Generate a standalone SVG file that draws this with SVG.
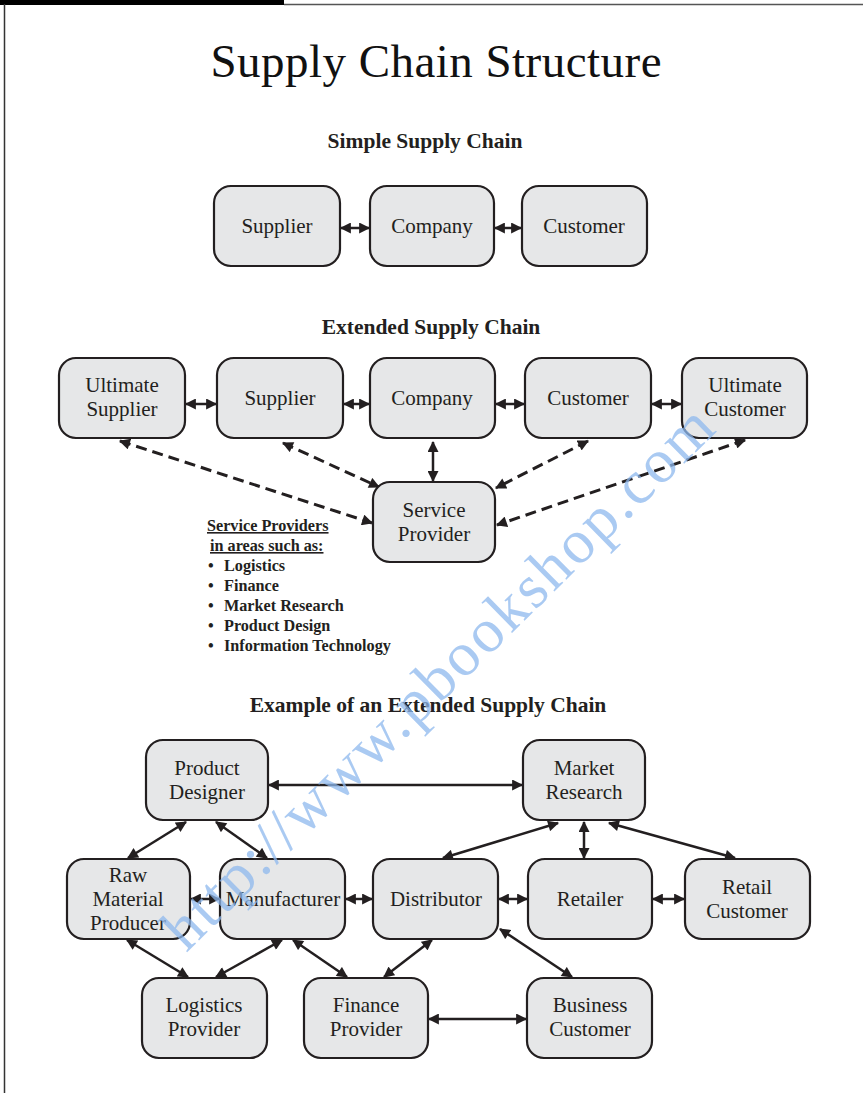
<svg xmlns="http://www.w3.org/2000/svg" width="863" height="1093" viewBox="0 0 863 1093">
<style>
.box{fill:#e6e7e8;stroke:#231f20;stroke-width:2.2}
.lbl{font-family:"Liberation Serif",serif;font-size:21px;fill:#231f20;text-anchor:middle}
.hd{font-family:"Liberation Serif",serif;font-weight:bold;font-size:21.5px;fill:#231f20;text-anchor:middle}
.lst{font-family:"Liberation Serif",serif;font-weight:bold;font-size:16.2px;fill:#231f20}
.c{stroke:#231f20;stroke-width:2.5;fill:none;marker-start:url(#ah);marker-end:url(#ah)}
.d{stroke:#231f20;stroke-width:3;fill:none;stroke-dasharray:11 6;marker-start:url(#ah);marker-end:url(#ah)}
</style>
<defs>
<marker id="ah" viewBox="0 0 10 10" refX="9" refY="5" markerWidth="12" markerHeight="11" markerUnits="userSpaceOnUse" orient="auto-start-reverse"><path d="M0,0L10,5L0,10z" fill="#231f20"/></marker>
</defs>
<rect width="863" height="1093" fill="#fff"/>
<rect x="0" y="0" width="284" height="5" fill="#000"/>
<line x1="284" y1="4.5" x2="863" y2="4.5" stroke="#555" stroke-width="1.5"/>
<line x1="4.5" y1="4" x2="4.5" y2="1093" stroke="#333" stroke-width="1.5"/>
<text x="436" y="77" font-family="Liberation Serif,serif" font-size="47" fill="#111" text-anchor="middle" textLength="451">Supply Chain Structure</text>
<text class="hd" x="425" y="148">Simple Supply Chain</text>
<text class="hd" x="431" y="334">Extended Supply Chain</text>
<text class="hd" x="428" y="712">Example of an Extended Supply Chain</text>
<g id="connectors">
<line class="c" x1="341" y1="228" x2="369" y2="228"/>
<line class="c" x1="495" y1="228" x2="521" y2="228"/>
<line class="c" x1="186" y1="404" x2="216" y2="404"/>
<line class="c" x1="344" y1="404" x2="369" y2="404"/>
<line class="c" x1="496" y1="404" x2="524" y2="404"/>
<line class="c" x1="652" y1="404" x2="681" y2="404"/>
<line class="c" x1="433" y1="442" x2="433" y2="481"/>
<line class="d" x1="120" y1="441" x2="372" y2="523"/>
<line class="d" x1="283" y1="443" x2="379" y2="487"/>
<line class="d" x1="588" y1="441" x2="496" y2="488"/>
<line class="d" x1="745" y1="440" x2="497" y2="525"/>
<line class="c" x1="269" y1="785" x2="522" y2="785"/>
<line class="c" x1="186" y1="822" x2="128" y2="858"/>
<line class="c" x1="216" y1="822" x2="267" y2="858"/>
<line class="c" x1="558" y1="823" x2="443" y2="858"/>
<line class="c" x1="584" y1="822" x2="584" y2="858"/>
<line class="c" x1="609" y1="823" x2="735" y2="858"/>
<line class="c" x1="191" y1="899" x2="219" y2="899"/>
<line class="c" x1="346" y1="899" x2="372" y2="899"/>
<line class="c" x1="499" y1="899" x2="527" y2="899"/>
<line class="c" x1="653" y1="899" x2="684" y2="899"/>
<line class="c" x1="127" y1="940" x2="188" y2="977"/>
<line class="c" x1="282" y1="940" x2="216" y2="977"/>
<line class="c" x1="293" y1="940" x2="347" y2="977"/>
<line class="c" x1="432" y1="940" x2="384" y2="977"/>
<line class="c" x1="500" y1="929" x2="572" y2="977"/>
<line class="c" x1="429" y1="1019" x2="526" y2="1019"/>
</g>
<g id="s-supplier"><rect class="box" x="214" y="186" width="126" height="80" rx="17"/><text class="lbl" x="277" y="233">Supplier</text></g>
<g id="s-company"><rect class="box" x="370" y="186" width="124" height="80" rx="17"/><text class="lbl" x="432" y="233">Company</text></g>
<g id="s-customer"><rect class="box" x="522" y="186" width="125" height="80" rx="17"/><text class="lbl" x="584" y="233">Customer</text></g>
<g id="e-ult-supplier"><rect class="box" x="59" y="358" width="126" height="80" rx="17"/><text class="lbl" x="122" y="392">Ultimate</text><text class="lbl" x="122" y="416">Supplier</text></g>
<g id="e-supplier"><rect class="box" x="217" y="358" width="126" height="80" rx="17"/><text class="lbl" x="280" y="405">Supplier</text></g>
<g id="e-company"><rect class="box" x="370" y="358" width="125" height="80" rx="17"/><text class="lbl" x="432" y="405">Company</text></g>
<g id="e-customer"><rect class="box" x="525" y="358" width="126" height="80" rx="17"/><text class="lbl" x="588" y="405">Customer</text></g>
<g id="e-ult-customer"><rect class="box" x="682" y="358" width="125" height="80" rx="17"/><text class="lbl" x="745" y="392">Ultimate</text><text class="lbl" x="745" y="416">Customer</text></g>
<g id="e-service"><rect class="box" x="373" y="482" width="122" height="80" rx="17"/><text class="lbl" x="434" y="517">Service</text><text class="lbl" x="434" y="541">Provider</text></g>
<g id="service-list">
<text class="lst" x="207" y="531" text-decoration="underline">Service Providers</text>
<text class="lst" x="210" y="551" text-decoration="underline">in areas such as:</text>
<text class="lst" x="208" y="571">•</text><text class="lst" x="224" y="571">Logistics</text>
<text class="lst" x="208" y="591">•</text><text class="lst" x="224" y="591">Finance</text>
<text class="lst" x="208" y="611">•</text><text class="lst" x="224" y="611">Market Research</text>
<text class="lst" x="208" y="631">•</text><text class="lst" x="224" y="631">Product Design</text>
<text class="lst" x="208" y="651">•</text><text class="lst" x="224" y="651">Information Technology</text>
</g>
<g id="x-product-designer"><rect class="box" x="146" y="740" width="122" height="80" rx="17"/><text class="lbl" x="207" y="775">Product</text><text class="lbl" x="207" y="799">Designer</text></g>
<g id="x-market-research"><rect class="box" x="523" y="740" width="122" height="80" rx="17"/><text class="lbl" x="584" y="775">Market</text><text class="lbl" x="584" y="799">Research</text></g>
<g id="x-raw"><rect class="box" x="67" y="859" width="123" height="80" rx="17"/><text class="lbl" x="128" y="882">Raw</text><text class="lbl" x="128" y="906">Material</text><text class="lbl" x="128" y="930">Producer</text></g>
<g id="x-manufacturer"><rect class="box" x="220" y="859" width="125" height="80" rx="17"/><text class="lbl" x="283" y="906">Manufacturer</text></g>
<g id="x-distributor"><rect class="box" x="373" y="859" width="125" height="80" rx="17"/><text class="lbl" x="436" y="906">Distributor</text></g>
<g id="x-retailer"><rect class="box" x="528" y="859" width="124" height="80" rx="17"/><text class="lbl" x="590" y="906">Retailer</text></g>
<g id="x-retail-customer"><rect class="box" x="685" y="859" width="125" height="80" rx="17"/><text class="lbl" x="747" y="894">Retail</text><text class="lbl" x="747" y="918">Customer</text></g>
<g id="x-logistics"><rect class="box" x="142" y="978" width="125" height="80" rx="17"/><text class="lbl" x="204" y="1012">Logistics</text><text class="lbl" x="204" y="1036">Provider</text></g>
<g id="x-finance"><rect class="box" x="304" y="978" width="124" height="80" rx="17"/><text class="lbl" x="366" y="1012">Finance</text><text class="lbl" x="366" y="1036">Provider</text></g>
<g id="x-business"><rect class="box" x="527" y="978" width="125" height="80" rx="17"/><text class="lbl" x="590" y="1012">Business</text><text class="lbl" x="590" y="1036">Customer</text></g>
<text x="452" y="692" transform="rotate(-44.5 452 692)" font-family="Liberation Serif,serif" font-size="62" fill="#8db8ee" fill-opacity="0.75" text-anchor="middle" textLength="745">http://www.pbookshop.com</text>
</svg>
